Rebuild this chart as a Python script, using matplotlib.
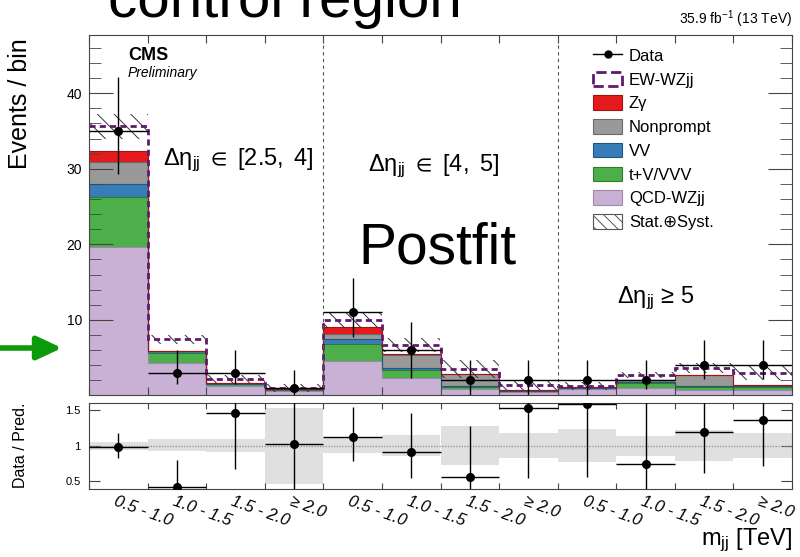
import numpy as np
import matplotlib.pyplot as plt
import matplotlib.transforms as mtransforms
from matplotlib.patches import Patch
from matplotlib.lines import Line2D

plt.rcParams['font.family'] = ['Liberation Sans', 'DejaVu Sans']
plt.rcParams['mathtext.fontset'] = 'custom'
plt.rcParams['mathtext.rm'] = 'Liberation Sans'
plt.rcParams['mathtext.it'] = 'Liberation Sans:italic'
plt.rcParams['mathtext.bf'] = 'Liberation Sans:bold'
plt.rcParams['mathtext.fallback'] = 'stixsans'
plt.rcParams['hatch.linewidth'] = 0.7

# m_jj bins, three delta-eta regions of four bins each
mjj_labels = ['0.5 - 1.0', '1.0 - 1.5', '1.5 - 2.0', '≥ 2.0'] * 3

# stacked yields (bottom to top)
qcd_wzjj = [19.7, 4.25, 1.30, 0.60, 4.57, 2.30, 0.86, 0.50, 0.80, 1.00, 0.73, 0.73]
t_v_vvv = [6.5, 1.35, 0.20, 0.17, 2.23, 1.10, 0.22, 0.10, 0.20, 0.60, 0.44, 0.44]
vv = [1.8, 0.25, 0.05, 0.03, 0.70, 0.20, 0.18, 0.03, 0.03, 0.20, 0.13, 0.13]
nonprompt = [2.9, 0.05, 0.05, 0.02, 0.70, 1.80, 1.64, 0.05, 0.05, 0.25, 1.40, 0.10]
zgamma = [1.5, 0.0, 0.0, 0.0, 0.80, 0.05, 0.0, 0.0, 0.0, 0.0, 0.0, 0.0]
ew_wzjj = [3.2, 1.55, 0.55, 0.18, 1.00, 1.25, 0.60, 0.70, 0.18, 0.65, 0.90, 1.60]
pred_unc = [1.7, 0.6, 0.5, 0.5, 1.1, 0.9, 1.2, 0.7, 0.55, 0.35, 0.65, 1.0]

# observed data with error bar ends
data = [35, 3, 3, 1, 11, 6, 2, 2, 2, 2, 4, 4]
data_lo = [29.3, 1.5, 1.5, 0.0, 7.8, 2.3, 0.0, 0.0, 0.0, 0.8, 2.15, 2.15]
data_hi = [42.2, 6.0, 6.0, 3.4, 15.5, 9.7, 4.7, 4.7, 4.7, 4.7, 7.35, 7.35]

# ratio panel
ratio = [0.98, 0.42, 1.47, 1.02, 1.12, 0.91, 0.56, 1.53, 1.59, 0.74, 1.19, 1.36]
ratio_lo = [0.83, 0.2, 0.67, 0.2, 0.78, 0.55, 0.2, 0.55, 0.56, 0.2, 0.62, 0.71]
ratio_hi = [1.18, 0.80, 2.0, 2.0, 1.55, 1.46, 1.28, 2.0, 2.0, 2.0, 2.0, 2.0]
band_lo = [0.94, 0.92, 0.91, 0.46, 0.90, 0.85, 0.73, 0.83, 0.77, 0.85, 0.78, 0.83]
band_hi = [1.05, 1.10, 1.10, 1.54, 1.12, 1.15, 1.28, 1.18, 1.24, 1.14, 1.22, 1.18]

stack = [qcd_wzjj, t_v_vvv, vv, nonprompt, zgamma]
stack_names = ['QCD-WZjj', 't+V/VVV', 'VV', 'Nonprompt', 'Zγ']
stack_colors = ['#c9b1d6', '#4daf4a', '#377eb8', '#999999', '#e41a1c']
stack_edges = ['#9c8aa8', '#2e7d2c', '#22557f', '#6a6a6a', '#a01213']
ew_color = '#5e1a6e'
frame = '#444444'

fig = plt.figure(figsize=(8, 5.57), dpi=100)
ax = fig.add_axes([0.11125, 0.28995, 0.87875, 0.64721])
rax = fig.add_axes([0.11125, 0.12208, 0.87875, 0.15386])

edges = np.arange(len(data) + 1)
centers = edges[:-1] + 0.5

bottom = np.zeros(len(data))
tops = []
for vals, col in zip(stack, stack_colors):
    top = bottom + np.array(vals)
    ax.stairs(top, edges, baseline=bottom, fill=True, color=col, lw=0)
    tops.append(top)
    bottom = top
for top, ec in zip(tops, stack_edges):
    ax.stairs(top, edges, baseline=None, color=ec, lw=0.8)

total = bottom + np.array(ew_wzjj)
unc = np.array(pred_unc)
ax.bar(centers, 2 * unc, bottom=total - unc, width=1, fc='none', ec='#333333',
       hatch='\\\\', lw=0)
ax.stairs(total, edges, baseline=None, color=ew_color, lw=2, ls=(0, (2.2, 1.5)))

data = np.array(data, dtype=float)
ax.errorbar(centers, data, yerr=[data - np.array(data_lo), np.array(data_hi) - data],
            xerr=0.5, fmt='o', color='black', ms=5.5, elinewidth=1, capsize=0, zorder=5)

for x in (4, 8):
    ax.axvline(x, color='#555555', ls=(0, (3, 3)), lw=0.8)

ax.set_xlim(0, 12)
ax.set_ylim(0, 47.7)
ax.set_xticks(edges)
ax.tick_params(axis='x', direction='in', top=True, length=6, labelbottom=False, color=frame)
ax.set_yticks([10, 20, 30, 40])
ax.set_yticks(np.arange(0, 48, 2), minor=True)
ax.tick_params(axis='y', which='major', direction='in', right=True, length=17,
               labelsize=10, color=frame, pad=5)
ax.tick_params(axis='y', which='minor', direction='in', right=True, length=8.5, color=frame)
for s in ax.spines.values():
    s.set_color(frame)

# ratio panel
rax.bar(centers, np.array(band_hi) - np.array(band_lo), bottom=band_lo, width=1,
        color='#e0e0e0', lw=0)
rax.axhline(1, color='#999999', ls=(0, (1, 1)), lw=1)
ratio = np.array(ratio)
rax.errorbar(centers, ratio, yerr=[ratio - np.array(ratio_lo), np.array(ratio_hi) - ratio],
             xerr=0.5, fmt='o', color='black', ms=5.5, elinewidth=1, capsize=0, zorder=5)
rax.set_xlim(0, 12)
rax.set_ylim(0.39, 1.6)
rax.set_xticks(edges)
rax.set_xticklabels([])
rax.tick_params(axis='x', direction='in', top=True, length=4.5, color=frame)
rax.set_yticks([0.5, 1, 1.5])
rax.set_yticklabels(['0.5', '1', '1.5'])
rax.tick_params(axis='y', direction='in', right=True, length=8, labelsize=8, color=frame, pad=6)
for s in rax.spines.values():
    s.set_color(frame)

trans = mtransforms.blended_transform_factory(rax.transData, rax.transAxes)
for c, lab in zip(centers, mjj_labels):
    rax.text(c - 0.02, -0.05, lab, transform=trans, rotation=-20, rotation_mode='anchor',
             ha='left', va='top', style='italic', fontsize=12)

# legend
handles = [Line2D([], [], color='black', marker='o', ms=5, lw=1),
           Patch(fc='white', ec=ew_color, ls='--', lw=2)]
labels = ['Data', 'EW-WZjj']
for name, col, ec in list(zip(stack_names, stack_colors, stack_edges))[::-1]:
    handles.append(Patch(fc=col, ec=ec, lw=0.8))
    labels.append(name)
handles.append(Patch(fc='white', ec='#555555', hatch='\\\\\\', lw=0.8))
labels.append('Stat.⊕Syst.')
ax.legend(handles, labels, loc='upper left', bbox_to_anchor=(593 / 800, 1 - 48 / 557),
          bbox_transform=fig.transFigure, frameon=False, fontsize=12, borderpad=0,
          borderaxespad=0, handlelength=1.75, handleheight=0.95, handletextpad=0.4,
          labelspacing=0.47)

# annotations
fig.text(128 / 800, 1 - 60 / 557, 'CMS', fontsize=13, fontweight='bold', va='baseline')
fig.text(128 / 800, 1 - 77 / 557, 'Preliminary', fontsize=10, style='italic', va='baseline')
fig.text(792 / 800, 1 - 24 / 557, r'35.9 fb$^{-1}$ (13 TeV)', fontsize=10, ha='right',
         va='baseline')
fig.text(163 / 800, 1 - 165 / 557, r'$\mathrm{Δη_{jj}\ \in\ [2.5,\ 4]}$', fontsize=17,
         va='baseline')
fig.text(368 / 800, 1 - 171 / 557, r'$\mathrm{Δη_{jj}\ \in\ [4,\ 5]}$', fontsize=17,
         va='baseline')
fig.text(617 / 800, 1 - 303 / 557, r'$\mathrm{Δη_{jj}}$ ≥ 5', fontsize=17, va='baseline')
fig.text(358 / 800, 1 - 263 / 557, 'Postfit', fontsize=41, va='baseline')
fig.text(108 / 800, 1 - 17 / 557, 'control region', fontsize=42, va='baseline')

fig.text(20 / 800, 1 - 38 / 557, 'Events / bin', fontsize=18, rotation=90, ha='center', va='top')
fig.text(21 / 800, 1 - 445 / 557, 'Data / Pred.', fontsize=11.5, rotation=90, ha='center',
         va='center')
fig.text(792 / 800, 1 - 545 / 557, r'$\mathrm{m_{jj}}$ [TeV]', fontsize=17, ha='right',
         va='baseline')

ax.annotate('', xy=(62, 557 - 348), xytext=(0, 557 - 348), xycoords='figure pixels',
            textcoords='figure pixels',
            arrowprops=dict(arrowstyle='-|>,head_length=1.5,head_width=0.7', lw=4,
                            color='#0a9a0a', shrinkA=0, shrinkB=0))

fig.savefig('out.png', dpi=100)
